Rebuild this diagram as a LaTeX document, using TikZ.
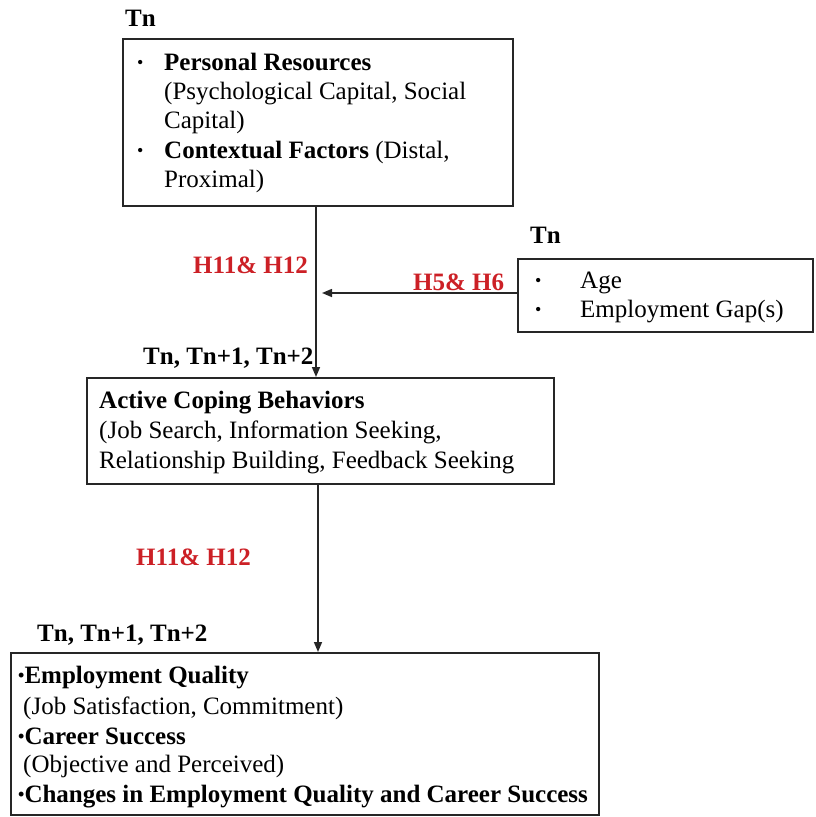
\documentclass[tikz,border=0pt]{standalone}
\usepackage{fontspec}
\setmainfont{Liberation Serif}
\usetikzlibrary{arrows.meta}
\definecolor{hred}{RGB}{204,32,38}
\newcommand{\smbul}{{\fontsize{18}{18}\selectfont\raisebox{1.5pt}{•}}}
\begin{document}
\begin{tikzpicture}[x=1pt,y=-1pt,
  box/.style={draw=black!85,line width=1.5pt,rectangle,anchor=north west,inner sep=0pt},
  txt/.style={anchor=base west,inner sep=0pt,font=\fontsize{25}{30}\selectfont},
  btxt/.style={txt,font=\fontsize{25}{30}\selectfont\bfseries},
  htxt/.style={btxt,text=hred},
  arr/.style={line width=1.5pt,draw=black!85,-{Triangle[length=10pt,width=8pt]}}]
\useasboundingbox (0,0) rectangle (815,817);
% boxes
\node[box,minimum width=390pt,minimum height=167pt] (top) at (122,38) {};
\node[box,minimum width=295pt,minimum height=73pt] (right) at (517,258) {};
\node[box,minimum width=467pt,minimum height=106pt] (mid) at (86,377) {};
\node[box,minimum width=588pt,minimum height=162pt] (bot) at (10,652) {};
% top box text
\node[btxt] (tn1) at (125,26) {Tn};
\node[txt] (b1) at (137,70) {\smbul};
\node[btxt] (t1) at (164,70) {Personal Resources};
\node[txt] (t2) at (164,99) {(Psychological Capital, Social};
\node[txt] (t3) at (164,128) {Capital)};
\node[txt] (b2) at (137,158) {\smbul};
\node[txt] (t4) at (164,158) {\textbf{Contextual Factors} (Distal,};
\node[txt] (t5) at (164,187) {Proximal)};
% right box text
\node[btxt] (tn2) at (530,243) {Tn};
\node[txt] (b3) at (535,288) {\smbul};
\node[txt] (r1) at (580,288) {Age};
\node[txt] (b4) at (535,317) {\smbul};
\node[txt] (r2) at (580,317) {Employment Gap(s)};
% labels
\node[htxt] (h1) at (193,273) {H11\& H12};
\node[htxt] (h2) at (413,290) {H5\& H6};
\node[btxt] (tn3) at (143,364) {Tn, Tn+1, Tn+2};
\node[htxt] (h3) at (136,565) {H11\& H12};
\node[btxt] (tn4) at (37,641) {Tn, Tn+1, Tn+2};
% middle box text
\node[btxt] (m1) at (99,408) {Active Coping Behaviors};
\node[txt] (m2) at (99,438) {(Job Search, Information Seeking,};
\node[txt] (m3) at (99,468) {Relationship Building, Feedback Seeking};
% bottom box text
\node[btxt] (e1) at (18,683) {\smbul Employment Quality};
\node[txt] (e2) at (23,714) {(Job Satisfaction, Commitment)};
\node[btxt] (e3) at (18,744) {\smbul Career Success};
\node[txt] (e4) at (23,772) {(Objective and Perceived)};
\node[btxt] (e5) at (18,802) {\smbul Changes in Employment Quality and Career Success};
% connectors
\coordinate (c1) at (316,0);
\coordinate (c2) at (318,0);
\coordinate (c3) at (322,293);
\draw[arr] (top.south -| c1) -- (mid.north -| c1);
\draw[arr] (mid.south -| c2) -- (bot.north -| c2);
\draw[arr] (right.west |- c3) -- (c3);
\end{tikzpicture}
\end{document}
